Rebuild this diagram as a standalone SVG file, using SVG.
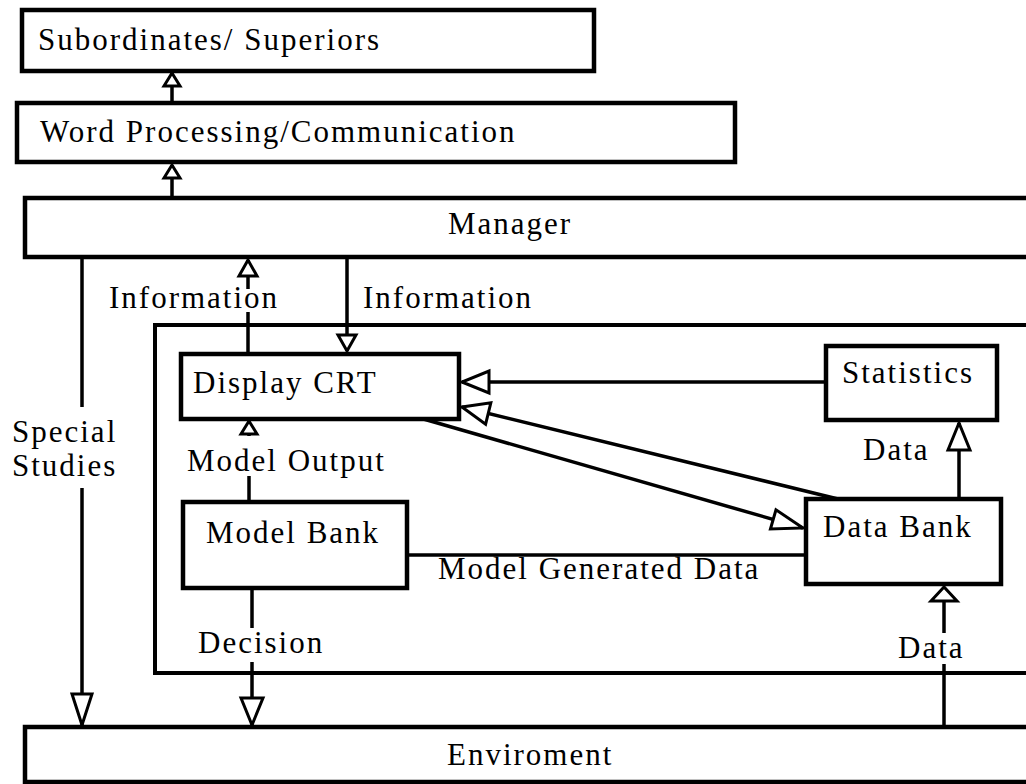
<svg xmlns="http://www.w3.org/2000/svg" width="1026" height="784" viewBox="0 0 1026 784">
  <style>
    .box { fill: #fff; stroke: #000; stroke-width: 4.5; }
    .frame { fill: none; stroke: #000; stroke-width: 4; }
    .link { fill: none; stroke: #000; stroke-width: 3.5; }
    .lbl { font-family: "Liberation Serif", "Times New Roman", serif; font-size: 31px; letter-spacing: 2px; fill: #000; }
  </style>
  <defs>
    <!-- hollow triangular arrowheads, tip at the path end -->
    <marker id="ah-sm" markerUnits="userSpaceOnUse" orient="auto" refX="0" refY="0" markerWidth="40" markerHeight="40" style="overflow:visible">
      <path d="M0,0 L-13,-8 L-13,8 Z" fill="#fff" stroke="#000" stroke-width="3"/>
    </marker>
    <marker id="ah-md" markerUnits="userSpaceOnUse" orient="auto" refX="0" refY="0" markerWidth="40" markerHeight="40" style="overflow:visible">
      <path d="M0,0 L-16,-9 L-16,9 Z" fill="#fff" stroke="#000" stroke-width="3"/>
    </marker>
    <marker id="ah-flat" markerUnits="userSpaceOnUse" orient="auto" refX="0" refY="0" markerWidth="40" markerHeight="40" style="overflow:visible">
      <path d="M0,0 L-14,-13 L-14,13 Z" fill="#fff" stroke="#000" stroke-width="3"/>
    </marker>
    <marker id="ah-lg" markerUnits="userSpaceOnUse" orient="auto" refX="0" refY="0" markerWidth="60" markerHeight="60" style="overflow:visible">
      <path d="M0,0 L-27,-11 L-27,11 Z" fill="#fff" stroke="#000" stroke-width="3"/>
    </marker>
    <marker id="ah-long" markerUnits="userSpaceOnUse" orient="auto" refX="0" refY="0" markerWidth="60" markerHeight="60" style="overflow:visible">
      <path d="M0,0 L-31,-10 L-31,10 Z" fill="#fff" stroke="#000" stroke-width="3"/>
    </marker>
  </defs>

  <!-- enclosing system frame (open to the right) -->
  <g id="system-frame">
    <rect class="frame" x="155" y="325" width="890" height="348"/>
  </g>

  <g id="connectors">
    <!-- Word Processing -> Subordinates/Superiors -->
    <line class="link" x1="172" y1="103" x2="172" y2="73" marker-end="url(#ah-sm)"/>
    <!-- Manager -> Word Processing -->
    <line class="link" x1="172" y1="198" x2="172" y2="165" marker-end="url(#ah-sm)"/>
    <!-- Special Studies: Manager -> Enviroment -->
    <line class="link" x1="82" y1="259" x2="82" y2="407"/>
    <line class="link" x1="82" y1="488" x2="82" y2="725" marker-end="url(#ah-long)"/>
    <!-- Information: Display CRT -> Manager -->
    <line class="link" x1="248" y1="353" x2="248" y2="312"/>
    <line class="link" x1="248" y1="289" x2="248" y2="260" marker-end="url(#ah-md)"/>
    <!-- Information: Manager -> Display CRT -->
    <line class="link" x1="347" y1="258" x2="347" y2="351" marker-end="url(#ah-md)"/>
    <!-- Statistics -> Display CRT -->
    <line class="link" x1="826" y1="382" x2="462" y2="382" marker-end="url(#ah-lg)"/>
    <!-- Data Bank -> Display CRT -->
    <line class="link" x1="838" y1="499" x2="462" y2="407" marker-end="url(#ah-lg)"/>
    <!-- Display CRT -> Data Bank -->
    <line class="link" x1="420" y1="418" x2="803" y2="528" marker-end="url(#ah-long)"/>
    <!-- Data Bank -> Statistics -->
    <line class="link" x1="959" y1="499" x2="959" y2="423" marker-end="url(#ah-lg)"/>
    <!-- Model Output: Model Bank -> Display CRT -->
    <line class="link" x1="249" y1="502" x2="249" y2="476"/>
    <line class="link" x1="249" y1="436" x2="249" y2="421" marker-end="url(#ah-sm)"/>
    <!-- Model Generated Data: Model Bank - Data Bank -->
    <line class="link" x1="407" y1="555" x2="806" y2="555"/>
    <!-- Decision: Model Bank -> Enviroment -->
    <line class="link" x1="252" y1="588" x2="252" y2="628"/>
    <line class="link" x1="252" y1="662" x2="252" y2="725" marker-end="url(#ah-lg)"/>
    <!-- Data: Enviroment -> Data Bank -->
    <line class="link" x1="944" y1="727" x2="944" y2="664"/>
    <line class="link" x1="944" y1="633" x2="944" y2="587" marker-end="url(#ah-flat)"/>
  </g>

  <!-- connector labels -->
  <g id="labels">
    <text class="lbl" x="12" y="442">Special</text>
    <text class="lbl" x="12" y="476">Studies</text>
    <text class="lbl" x="109" y="308">Information</text>
    <text class="lbl" x="363" y="308">Information</text>
    <text class="lbl" x="187" y="471">Model Output</text>
    <text class="lbl" x="863" y="460">Data</text>
    <text class="lbl" x="438" y="579">Model Generated Data</text>
    <text class="lbl" x="198" y="653">Decision</text>
    <text class="lbl" x="898" y="658">Data</text>
  </g>

  <g id="subordinates">
    <rect class="box" x="22" y="10" width="572" height="61"/>
    <text class="lbl" x="38" y="50">Subordinates/ Superiors</text>
  </g>
  <g id="word-processing">
    <rect class="box" x="17" y="103" width="718" height="59"/>
    <text class="lbl" x="40" y="142">Word Processing/Communication</text>
  </g>
  <g id="manager">
    <rect class="box" x="25" y="198" width="1020" height="59"/>
    <text class="lbl" x="448" y="234">Manager</text>
  </g>
  <g id="display-crt">
    <rect class="box" x="181" y="354" width="278" height="65"/>
    <text class="lbl" x="193" y="393">Display CRT</text>
  </g>
  <g id="statistics">
    <rect class="box" x="826" y="346" width="171" height="74"/>
    <text class="lbl" x="842" y="383">Statistics</text>
  </g>
  <g id="model-bank">
    <rect class="box" x="183" y="502" width="224" height="86"/>
    <text class="lbl" x="206" y="543">Model Bank</text>
  </g>
  <g id="data-bank">
    <rect class="box" x="806" y="499" width="195" height="85"/>
    <text class="lbl" x="823" y="537">Data Bank</text>
  </g>
  <g id="enviroment">
    <rect class="box" x="25" y="727" width="1020" height="55"/>
    <text class="lbl" x="447" y="765">Enviroment</text>
  </g>
</svg>
